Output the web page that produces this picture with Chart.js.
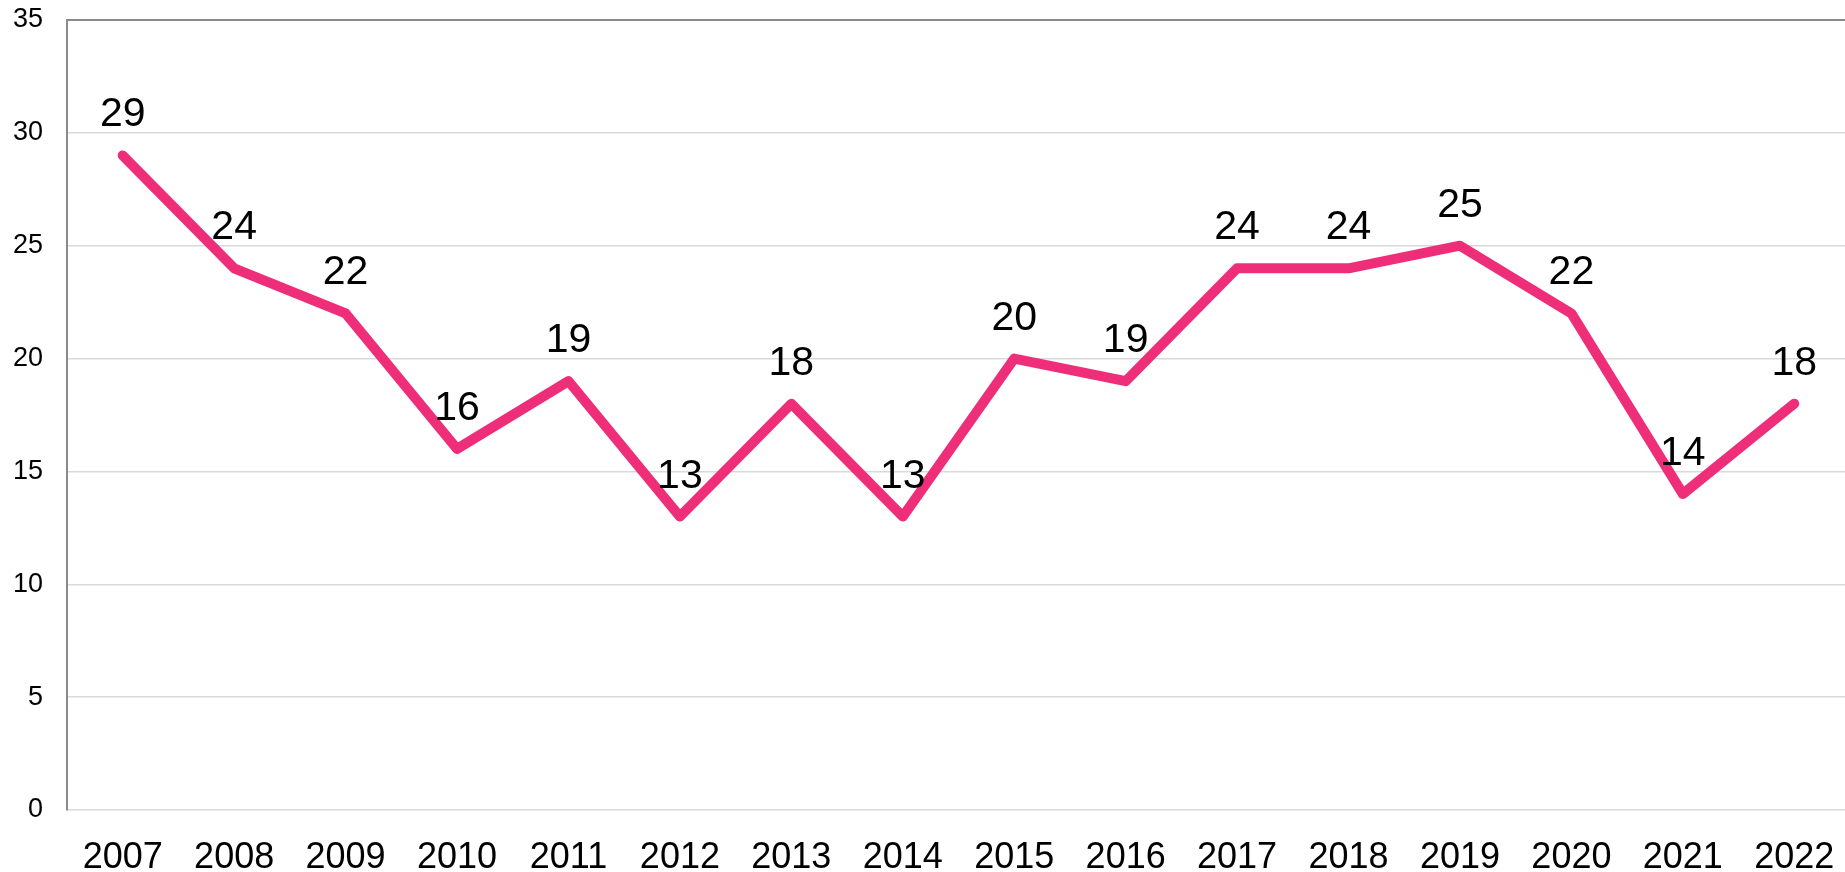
<!DOCTYPE html>
<html>
<head>
<meta charset="utf-8">
<script src="https://cdn.jsdelivr.net/npm/chart.js@4/dist/chart.umd.min.js"></script>
<style>
html,body{margin:0;padding:0;background:#fff;overflow:hidden;}
#wrap{width:1845px;height:872px;position:relative;overflow:hidden;}
</style>
</head>
<body>
<div id="wrap"><canvas id="c" width="1850" height="872"></canvas></div>
<script>
const years = ["2007","2008","2009","2010","2011","2012","2013","2014","2015","2016","2017","2018","2019","2020","2021","2022"];
const values = [29,24,22,16,19,13,18,13,20,19,24,24,25,22,14,18];
const yTicks = [0,5,10,15,20,25,30,35];

const labelPlugin = {
  id: 'valueLabels',
  afterDatasetsDraw(chart) {
    const ctx = chart.ctx;
    const meta = chart.getDatasetMeta(0);
    ctx.save();
    ctx.font = '41px "Liberation Sans", Arial, sans-serif';
    ctx.fillStyle = '#000';
    ctx.textAlign = 'center';
    ctx.textBaseline = 'alphabetic';
    meta.data.forEach((pt, i) => {
      ctx.fillText(String(values[i]), pt.x, pt.y - 29);
    });
    ctx.restore();
  }
};

new Chart(document.getElementById('c'), {
  type: 'line',
  data: {
    labels: years,
    datasets: [{
      data: values,
      borderColor: '#EE2E78',
      borderWidth: 10,
      borderCapStyle: 'round',
      borderJoinStyle: 'round',
      pointRadius: 0,
      tension: 0,
      fill: false
    }]
  },
  options: {
    responsive: false,
    animation: false,
    devicePixelRatio: 1,
    layout: { padding: { top: 20, right: 0, left: 0, bottom: 0 } },
    plugins: { legend: { display: false }, tooltip: { enabled: false } },
    scales: {
      x: {
        offset: true,
        grid: { display: false, drawTicks: false },
        border: { display: false },
        ticks: {
          color: '#000',
          padding: 26,
          maxRotation: 0,
          font: { family: '"Liberation Sans", Arial, sans-serif', size: 36 }
        },
        afterFit(scale) {
          scale.height = 62;
          scale.paddingLeft = 0; scale.paddingRight = 0;
          scale.paddingTop = 0; scale.paddingBottom = 0;
        }
      },
      y: {
        min: 0, max: 35,
        afterBuildTicks(scale) { scale.ticks = yTicks.map(v => ({ value: v })); },
        grid: {
          drawTicks: false,
          color: (c) => c.tick && c.tick.value === 35 ? '#8a8a8a' : '#d9d9d9',
          lineWidth: (c) => c.tick && c.tick.value === 35 ? 2 : 1.5
        },
        border: { display: true, color: '#8a8a8a', width: 2 },
        ticks: {
          color: '#000',
          padding: 24,
          font: { family: '"Liberation Sans", Arial, sans-serif', size: 27 }
        },
        afterFit(scale) {
          scale.width = 67;
          scale.paddingTop = 0; scale.paddingBottom = 0;
          scale.paddingLeft = 0; scale.paddingRight = 0;
        }
      }
    }
  },
  plugins: [labelPlugin]
});
</script>
</body>
</html>
